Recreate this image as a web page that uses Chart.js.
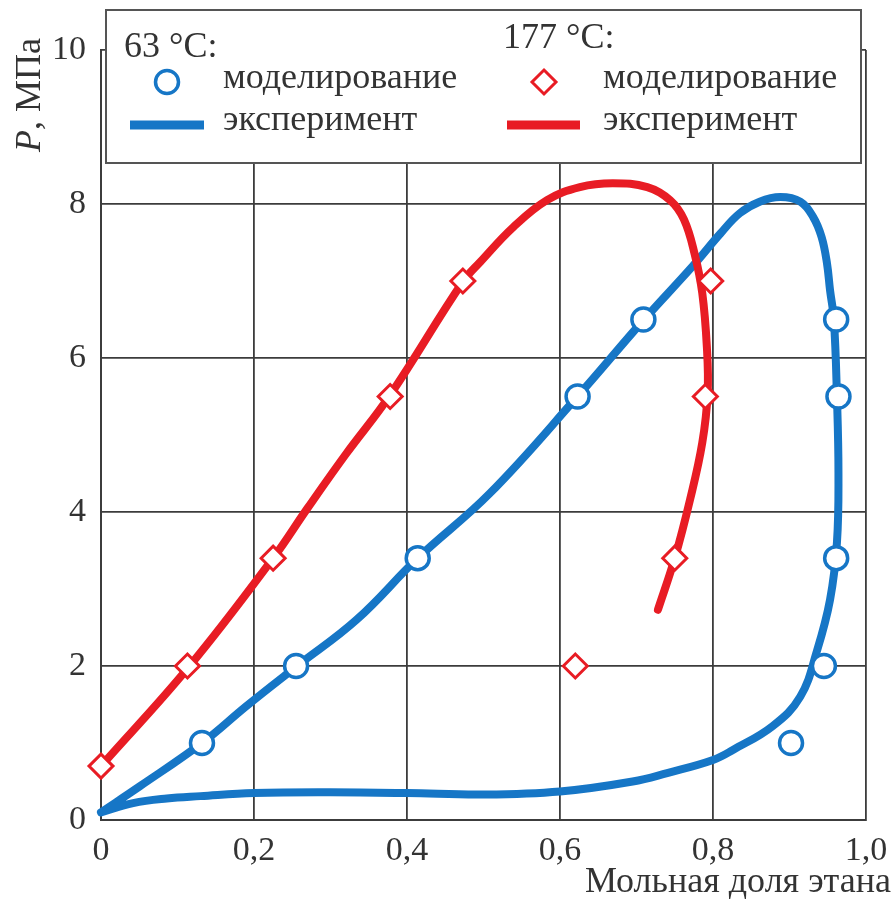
<!DOCTYPE html>
<html lang="ru">
<head>
    <meta charset="utf-8">
    <title>Давление – мольная доля этана</title>
    <script src="https://cdn.jsdelivr.net/npm/chart.js@4.4.1/dist/chart.umd.min.js"></script>
    <style>
        html, body { margin: 0; padding: 0; background: #fff; }
        #wrap { width: 894px; height: 899px; }
    </style>
</head>
<body>
    <div id="wrap"><canvas id="chart" width="894" height="899"></canvas></div>

    <script>
        // 63 °C, experimental loop (upper branch, then down the right side, then back along the bottom)
        const exp63X = [0, 0.051, 0.132, 0.19, 0.255, 0.334, 0.414, 0.508, 0.622, 0.709, 0.774, 0.81, 0.835, 0.861, 0.888, 0.914, 0.931, 0.942, 0.949, 0.953, 0.958, 0.962, 0.964, 0.962, 0.953, 0.936, 0.914, 0.878, 0.826, 0.8, 0.74, 0.695, 0.6, 0.5, 0.4, 0.3, 0.2, 0.13, 0.086, 0.042, 0];
        const exp63Y = [0.1, 0.44, 1.0, 1.48, 1.99, 2.6, 3.4, 4.24, 5.49, 6.49, 7.2, 7.62, 7.88, 8.03, 8.09, 8.03, 7.83, 7.57, 7.23, 6.88, 6.5, 5.5, 4.5, 3.6, 2.86, 2.2, 1.6, 1.22, 0.91, 0.78, 0.61, 0.5, 0.37, 0.33, 0.35, 0.36, 0.35, 0.31, 0.28, 0.22, 0.1];

        // 63 °C, simulated points
        const sim63X = [0.132, 0.255, 0.414, 0.623, 0.709, 0.961, 0.964, 0.961, 0.945, 0.902];
        const sim63Y = [1.0, 2.0, 3.4, 5.5, 6.5, 6.5, 5.5, 3.4, 2.0, 1.0];

        // 177 °C, experimental curve
        const exp177X = [0, 0.115, 0.225, 0.27, 0.32, 0.378, 0.473, 0.496, 0.539, 0.583, 0.626, 0.669, 0.714, 0.744, 0.762, 0.776, 0.786, 0.792, 0.793, 0.786, 0.77, 0.75, 0.728];
        const exp177Y = [0.7, 1.99, 3.4, 4.05, 4.75, 5.52, 6.99, 7.25, 7.7, 8.05, 8.22, 8.27, 8.22, 8.05, 7.8, 7.35, 6.84, 6.14, 5.54, 4.9, 4.16, 3.4, 2.73];

        // 177 °C, simulated points
        const sim177X = [0, 0.113, 0.225, 0.378, 0.473, 0.62, 0.75, 0.79, 0.797];
        const sim177Y = [0.7, 2.0, 3.4, 5.5, 7.0, 2.0, 3.4, 5.5, 7.0];

        const BLUE = '#1676c6';
        const RED = '#e81c24';
        const INK = '#333333';
        const SERIF = '"Liberation Serif", "Times New Roman", serif';

        const pts = (xs, ys) => xs.map((x, i) => ({ x: x, y: ys[i] }));

        // legend box and axis titles drawn by hand
        const overlay = {
            id: 'overlay',
            afterDraw(chart) {
                const ctx = chart.ctx;
                ctx.save();

                // legend frame
                ctx.fillStyle = '#fff';
                ctx.fillRect(106, 10, 755, 153);
                ctx.strokeStyle = '#555';
                ctx.lineWidth = 2;
                ctx.strokeRect(106, 10, 755, 153);

                ctx.fillStyle = INK;
                ctx.font = '36px ' + SERIF;
                ctx.textBaseline = 'alphabetic';
                ctx.textAlign = 'left';
                ctx.fillText('63 °C:', 124, 57);
                ctx.fillText('моделирование', 223, 88);
                ctx.fillText('эксперимент', 223, 130);
                ctx.fillText('177 °C:', 503, 48);
                ctx.fillText('моделирование', 603, 88);
                ctx.fillText('эксперимент', 603, 130);

                // circle marker
                ctx.beginPath();
                ctx.arc(167, 82, 11.5, 0, Math.PI * 2);
                ctx.fillStyle = '#fff';
                ctx.fill();
                ctx.strokeStyle = BLUE;
                ctx.lineWidth = 3.5;
                ctx.stroke();

                // diamond marker
                ctx.beginPath();
                ctx.moveTo(544, 70);
                ctx.lineTo(556, 82);
                ctx.lineTo(544, 94);
                ctx.lineTo(532, 82);
                ctx.closePath();
                ctx.fillStyle = '#fff';
                ctx.fill();
                ctx.strokeStyle = RED;
                ctx.lineWidth = 3;
                ctx.stroke();

                // line samples
                ctx.lineWidth = 9;
                ctx.strokeStyle = BLUE;
                ctx.beginPath();
                ctx.moveTo(130, 125);
                ctx.lineTo(204, 125);
                ctx.stroke();
                ctx.strokeStyle = RED;
                ctx.beginPath();
                ctx.moveTo(507, 125);
                ctx.lineTo(580, 125);
                ctx.stroke();

                // x axis title
                ctx.fillStyle = INK;
                ctx.font = '36px ' + SERIF;
                ctx.textAlign = 'right';
                ctx.fillText('Мольная доля этана', 891, 892);

                // y axis title, italic P
                ctx.translate(40, 152);
                ctx.rotate(-Math.PI / 2);
                ctx.textAlign = 'left';
                ctx.font = 'italic 36px ' + SERIF;
                ctx.fillText('P', 0, 0);
                const w = ctx.measureText('P').width;
                ctx.font = '36px ' + SERIF;
                ctx.fillText(', МПа', w, 0);

                ctx.restore();
            }
        };

        const lineDs = (label, data, color, order) => ({
            label: label,
            data: data,
            showLine: true,
            borderColor: color,
            borderWidth: 8,
            pointRadius: 0,
            tension: 0.4,
            borderCapStyle: 'round',
            borderJoinStyle: 'round',
            fill: false,
            clip: false,
            order: order
        });

        new Chart(document.getElementById('chart'), {
            type: 'scatter',
            data: {
                datasets: [
                    lineDs('63 °C эксперимент', pts(exp63X, exp63Y), BLUE, 4),
                    lineDs('177 °C эксперимент', pts(exp177X, exp177Y), RED, 3),
                    {
                        label: '63 °C моделирование',
                        data: pts(sim63X, sim63Y),
                        pointStyle: 'circle',
                        pointRadius: 11.5,
                        pointBorderWidth: 3.5,
                        pointBackgroundColor: '#fff',
                        pointBorderColor: BLUE,
                        clip: false,
                        order: 2
                    },
                    {
                        label: '177 °C моделирование',
                        data: pts(sim177X, sim177Y),
                        pointStyle: 'rectRot',
                        pointRadius: 12,
                        pointBorderWidth: 3,
                        pointBackgroundColor: '#fff',
                        pointBorderColor: RED,
                        clip: false,
                        order: 1
                    }
                ]
            },
            options: {
                responsive: false,
                animation: false,
                layout: { padding: { left: 0, right: 28, top: 50, bottom: 0 } },
                plugins: {
                    legend: { display: false },
                    tooltip: { enabled: false }
                },
                scales: {
                    x: {
                        type: 'linear',
                        min: 0,
                        max: 1,
                        afterFit: (scale) => {
                            scale.height = 79;
                            // let the layout padding alone decide the right edge
                            scale.paddingLeft = 0;
                            scale.paddingRight = 0;
                        },
                        ticks: {
                            stepSize: 0.2,
                            padding: 11,
                            color: INK,
                            font: { family: SERIF, size: 34 },
                            callback: (v) => v === 0 ? '0' : v.toFixed(1).replace('.', ',')
                        },
                        grid: { color: '#3c3c3c', lineWidth: 1.8, drawTicks: false },
                        border: { color: '#3c3c3c', width: 2 }
                    },
                    y: {
                        min: 0,
                        max: 10,
                        afterFit: (scale) => { scale.width = 101; },
                        ticks: {
                            stepSize: 2,
                            padding: 15,
                            color: INK,
                            font: { family: SERIF, size: 34 }
                        },
                        grid: { color: '#3c3c3c', lineWidth: 1.8, drawTicks: false },
                        border: { color: '#3c3c3c', width: 2 }
                    }
                }
            },
            plugins: [overlay]
        });
    </script>
</body>
</html>
